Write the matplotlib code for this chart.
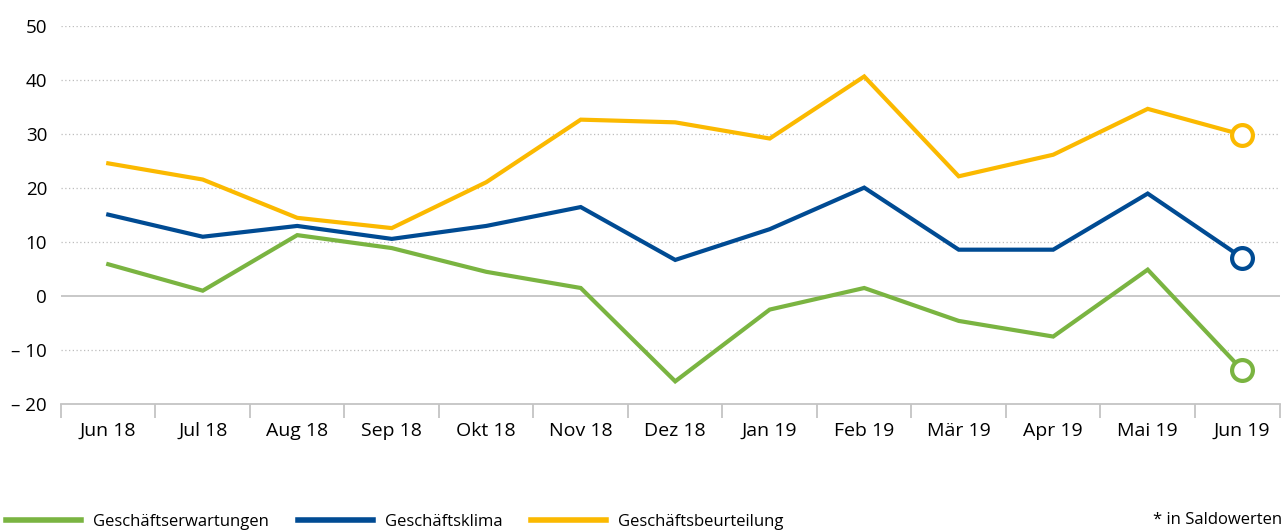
import matplotlib.pyplot as plt
from matplotlib.lines import Line2D

plt.rcParams['font.family'] = ['Open Sans', 'DejaVu Sans']

months = ['Jun 18', 'Jul 18', 'Aug 18', 'Sep 18', 'Okt 18', 'Nov 18', 'Dez 18',
          'Jan 19', 'Feb 19', 'Mär 19', 'Apr 19', 'Mai 19', 'Jun 19']
erwartungen = [5.9, 1.0, 11.3, 8.9, 4.5, 1.5, -15.8, -2.5, 1.5, -4.6, -7.5, 4.9, -13.7]
klima = [15.1, 11.0, 13.0, 10.6, 13.0, 16.5, 6.7, 12.4, 20.1, 8.6, 8.6, 19.0, 7.1]
beurteilung = [24.6, 21.6, 14.5, 12.6, 21.1, 32.7, 32.2, 29.2, 40.7, 22.2, 26.2, 34.7, 29.9]

series = [
    ('Geschäftserwartungen', erwartungen, '#7ab441'),
    ('Geschäftsklima', klima, '#004b93'),
    ('Geschäftsbeurteilung', beurteilung, '#fbb900'),
]

yticks = [-20, -10, 0, 10, 20, 30, 40, 50]
ylabels = ['– 20', '– 10', '0', '10', '20', '30', '40', '50']

W, H = 1286, 530
fig = plt.figure(figsize=(W / 100, H / 100), dpi=100)
ax = fig.add_axes([61 / W, 1 - 404 / H, (1280 - 61) / W, (404 - 26.3) / H])

x = list(range(len(months)))
for name, vals, col in series:
    ax.plot(x, vals, color=col, lw=3, solid_joinstyle='miter', clip_on=False, zorder=3)
    ax.plot(x[-1], vals[-1], 'o', ms=15, mfc='white', mec=col, mew=3, clip_on=False, zorder=4)

ax.set_xlim(-0.5, 12.4)
ax.set_ylim(-20, 50)

for y in yticks[1:]:
    if y == 0:
        ax.axhline(0, color='#c4c4c4', lw=1.3, zorder=1)
    else:
        ax.axhline(y, color='#bdbdbd', lw=0.9, ls=(0, (1, 2)), zorder=1)

ax.set_yticks(yticks)
ax.set_yticklabels(ylabels, fontsize=13.5)
ax.tick_params(axis='y', length=0, pad=10)

ax.set_xticks(x)
ax.set_xticklabels(months, fontsize=14)
ax.set_xticks([i - 0.5 for i in range(len(months))] + [12.4], minor=True)
ax.tick_params(axis='x', which='major', length=0, pad=13)
ax.tick_params(axis='x', which='minor', length=10, width=1.3, color='#c4c4c4', direction='out')

for s in ['top', 'right', 'left']:
    ax.spines[s].set_visible(False)
ax.spines['bottom'].set_color('#c4c4c4')
ax.spines['bottom'].set_linewidth(1.3)

handles = [Line2D([0], [0], color=col, lw=4) for _, _, col in series]
fig.legend(handles, [s[0] for s in series], loc='lower left', bbox_to_anchor=(-0.003, -0.018),
           ncol=3, frameon=False, fontsize=12, handlelength=4.5, handletextpad=0.7,
           columnspacing=1.75, borderaxespad=0.2)
fig.text(1282 / W, 1 - 520 / H, '* in Saldowerten', ha='right', va='center', fontsize=12)

fig.savefig('out.png', dpi=100)
